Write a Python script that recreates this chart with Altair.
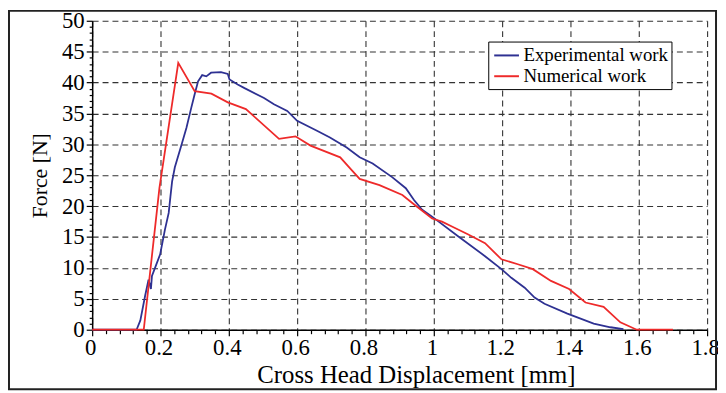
import altair as alt
import pandas as pd

# ---- data ----
exp_x = [0.0, 0.13, 0.141, 0.155, 0.165, 0.172, 0.175, 0.184, 0.199, 0.213, 0.224, 0.229, 0.234,
         0.242, 0.262, 0.276, 0.290, 0.300, 0.310, 0.322, 0.334, 0.348, 0.377, 0.397, 0.402,
         0.426, 0.446, 0.503, 0.532, 0.571, 0.600, 0.658, 0.696, 0.745, 0.783, 0.821, 0.878,
         0.918, 0.942, 0.966, 0.995, 1.072, 1.150, 1.198, 1.227, 1.266, 1.295, 1.324, 1.391,
         1.420, 1.468, 1.517, 1.555]
exp_y = [0.0, 0.0, 1.5, 5.5, 8.1, 6.6, 8.7, 10.0, 12.2, 16.2, 18.9, 21.5, 24.0,
         26.3, 30.0, 32.7, 35.9, 38.1, 40.2, 41.2, 41.0, 41.6, 41.7, 41.4, 40.5,
         39.7, 39.1, 37.5, 36.5, 35.4, 33.8, 32.2, 31.1, 29.5, 27.9, 26.9, 24.7,
         22.9, 21.0, 19.4, 18.3, 15.1, 11.9, 9.8, 8.4, 6.8, 5.2, 4.2, 2.6,
         2.0, 1.0, 0.4, 0.1]

num_x = [0.0, 0.151, 0.197, 0.252, 0.300, 0.349, 0.397, 0.450, 0.547, 0.595, 0.639, 0.726,
         0.755, 0.783, 0.841, 0.908, 0.937, 0.995, 1.024, 1.053, 1.101, 1.150, 1.198, 1.246,
         1.290, 1.343, 1.396, 1.444, 1.497, 1.546, 1.594, 1.700]
num_y = [0.0, 0.0, 23.0, 43.2, 38.6, 38.2, 36.8, 35.7, 30.9, 31.3, 29.8, 27.9,
         26.1, 24.4, 23.4, 21.8, 20.5, 18.0, 17.5, 16.7, 15.4, 14.0, 11.4, 10.6,
         9.8, 7.9, 6.6, 4.4, 3.7, 1.2, 0.0, 0.0]

series = ["Experimental work", "Numerical work"]
colors = ["#2e3192", "#ee2a2a"]

# major ticks every 0.2 / 5, with 4 minor ticks between
x_ticks = [round(i * 0.04, 2) for i in range(46)]
y_ticks = list(range(51))

df = pd.concat([
    pd.DataFrame({"x": exp_x, "y": exp_y, "series": series[0]}),
    pd.DataFrame({"x": num_x, "y": num_y, "series": series[1]}),
], ignore_index=True)

FONT = "Liberation Serif"
W, H = 621, 312

xscale = alt.Scale(domain=[0, 1.8], nice=False, zero=False)
yscale = alt.Scale(domain=[0, 50], nice=False, zero=False)

x_major_test = "abs(datum.value * 5 - round(datum.value * 5)) < 0.001"
y_major_test = "datum.value % 5 == 0"

x_axis = alt.Axis(values=x_ticks, orient="bottom",
                  labelExpr=f"({x_major_test}) ? format(datum.value, '.1~f') : ''",
                  title="Cross Head Displacement [mm]", titleFontSize=25, titleFont=FONT,
                  titleX=327, titleY=53, titleBaseline="alphabetic", titleAlign="center",
                  titleColor="black", titleFontWeight="normal",
                  labelFont=FONT, labelFontSize=23, labelColor="black", labelPadding=1,
                  labelOffset=-2, labelFlush=False, labelOverlap=False,
                  tickSize={"condition": {"test": x_major_test, "value": 6}, "value": 4},
                  gridOpacity={"condition": {"test": x_major_test, "value": 1}, "value": 0},
                  grid=True)
y_axis = alt.Axis(values=y_ticks, orient="left",
                  labelExpr=f"({y_major_test}) ? format(datum.value, 'd') : ''",
                  title="Force [N]", titleFontSize=22, titleFont=FONT, titleX=-46, titleY=156,
                  titleBaseline="alphabetic", titleAlign="center", titleAngle=270,
                  titleColor="black", titleFontWeight="normal",
                  labelFont=FONT, labelFontSize=23, labelColor="black", labelPadding=2,
                  labelOverlap=False,
                  tickSize={"condition": {"test": y_major_test, "value": 6}, "value": 3},
                  gridOpacity={"condition": {"test": y_major_test, "value": 1}, "value": 0},
                  grid=True)

color = alt.Color("series:N",
                  scale=alt.Scale(domain=series, range=colors),
                  legend=alt.Legend(title=None, orient="none", legendX=400, legendY=21,
                                    strokeColor="black", fillColor="white", padding=3,
                                    symbolType="M-1.25,0H1.25", symbolSize=400,
                                    symbolStrokeWidth=2, labelFontSize=19, labelFont=FONT,
                                    labelColor="black", rowPadding=-3, labelOffset=6,
                                    symbolOffset=4.5, labelLimit=300))

base = alt.Chart(df)

exp_line = base.transform_filter(alt.datum.series == series[0]).mark_line(strokeWidth=1.8).encode(
    x=alt.X("x:Q", scale=xscale, axis=x_axis),
    y=alt.Y("y:Q", scale=yscale, axis=y_axis),
    color=color,
)
num_line = base.transform_filter(alt.datum.series == series[1]).mark_line(strokeWidth=1.8).encode(
    x=alt.X("x:Q", scale=xscale, axis=x_axis),
    y=alt.Y("y:Q", scale=yscale, axis=y_axis),
    color=color,
)

frame = alt.Chart(alt.Data(values=[{"a": 1}])).mark_rect(
    fillOpacity=0, stroke="#222", strokeWidth=2
).encode(
    x=alt.value(-84), x2=alt.value(630), y=alt.value(-10), y2=alt.value(372)
)

chart = alt.layer(exp_line, num_line, frame).properties(
    width=W, height=H,
    padding={"left": 85, "top": 11, "right": 11, "bottom": 62},
    autosize=alt.AutoSizeParams(type="none"),
).configure_view(strokeWidth=0).configure_axis(
    labelFont=FONT, titleFont=FONT, labelColor="black", titleColor="black",
    titleFontWeight="normal", domainColor="black", domainWidth=1.5,
    tickColor="black", tickWidth=1.2, gridColor="#333", gridDash=[6, 4],
    gridWidth=1.1,
)

chart.save("out.html", embed_options={"renderer": "svg", "actions": False})
